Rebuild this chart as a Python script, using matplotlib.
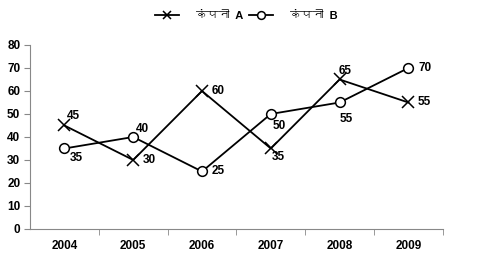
import matplotlib
matplotlib.use("Agg")
from matplotlib import pyplot as plt
from matplotlib import font_manager
from matplotlib.ft2font import FT2Font

years = ["2004", "2005", "2006", "2007", "2008", "2009"]
company_a = [45, 30, 60, 35, 65, 55]
company_b = [35, 40, 25, 50, 55, 70]
label_a = "कंपनी  A"
label_b = "कंपनी  B"

# look for a font that has devanagari glyphs
deva = None
for f in font_manager.fontManager.ttflist:
    try:
        if FT2Font(f.fname).get_char_index(ord("क")):
            deva = f.name
            break
    except Exception:
        pass
fams = ["Liberation Sans Narrow", "Liberation Sans"] + ([deva] if deva else [])
plt.rcParams["font.family"] = fams

fig = plt.figure(figsize=(4.92, 2.71), dpi=100)
ax = fig.add_axes([0.061, 0.155, 0.839, 0.679])

x = list(range(len(years)))
ax.plot(x, company_a, color="black", lw=1.3, marker="x", ms=8, mew=1.1, label=label_a)
ax.plot(x, company_b, color="black", lw=1.3, marker="o", ms=7, mfc="white", mew=1.1, label=label_b)

# label offsets in points
off_a = [(2, 7), (7, 0), (7, 0), (1, -6), (-1, 6), (7, 0)]
off_b = [(4, -7), (2, 6), (7, 0), (1, -9), (0, -12), (7, 0)]
for xi, v, o in zip(x, company_a, off_a):
    ax.annotate(str(v), (xi, v), xytext=o, textcoords="offset points",
                ha="left", va="center", fontsize=8.5, fontweight="bold")
for xi, v, o in zip(x, company_b, off_b):
    ax.annotate(str(v), (xi, v), xytext=o, textcoords="offset points",
                ha="left", va="center", fontsize=8.5, fontweight="bold")

ax.set_xlim(-0.5, len(years) - 0.5)
ax.set_ylim(0, 80)
ax.set_yticks(range(0, 81, 10))
ax.set_xticks(x)
ax.set_xticklabels(years)
ax.set_xticks([i + 0.5 for i in x], minor=True)
ax.tick_params(axis="x", which="major", length=0, pad=8)
ax.tick_params(axis="x", which="minor", length=4, color="#888888")
ax.tick_params(axis="y", length=4, color="#888888", pad=3)
for lab in ax.get_xticklabels() + ax.get_yticklabels():
    lab.set_fontweight("bold")
    lab.set_fontsize(8.5)
for s in ["top", "right"]:
    ax.spines[s].set_visible(False)
for s in ["left", "bottom"]:
    ax.spines[s].set_color("#888888")

fig.legend(loc="upper center", bbox_to_anchor=(0.5, 0.995), ncol=2, frameon=False,
           handlelength=2.2, columnspacing=0.5, handletextpad=1.5, markerscale=0.8,
           prop={"family": fams, "weight": "bold", "size": 8})

fig.savefig("out.png", dpi=100)
